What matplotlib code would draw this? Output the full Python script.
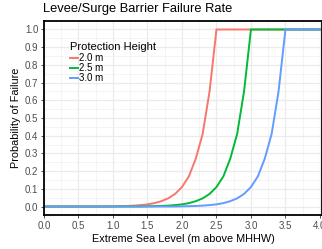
import matplotlib
matplotlib.use("Agg")
import matplotlib.pyplot as plt
from matplotlib.ticker import MultipleLocator

plt.rcParams['font.family'] = ['Liberation Sans', 'DejaVu Sans']

# Data
sea_level = [0.0, 0.1, 0.2, 0.3, 0.4, 0.5, 0.6, 0.7, 0.8, 0.9,
             1.0, 1.1, 1.2, 1.3, 1.4, 1.5, 1.6, 1.7, 1.8, 1.9,
             2.0, 2.1, 2.2, 2.3, 2.4, 2.5, 2.6, 2.7, 2.8, 2.9,
             3.0, 3.1, 3.2, 3.3, 3.4, 3.5, 3.6, 3.7, 3.8, 3.9, 4.0]
fail_2_0 = [0.000, 0.000, 0.000, 0.000, 0.000, 0.000, 0.000, 0.000, 0.000, 0.000,
            0.001, 0.002, 0.003, 0.005, 0.008, 0.012, 0.019, 0.030, 0.046, 0.071,
            0.110, 0.170, 0.270, 0.410, 0.650, 1.000, 1.000, 1.000, 1.000, 1.000,
            1.000, 1.000, 1.000, 1.000, 1.000, 1.000, 1.000, 1.000, 1.000, 1.000, 1.000]
fail_2_5 = [0.000, 0.000, 0.000, 0.000, 0.000, 0.000, 0.000, 0.000, 0.000, 0.000,
            0.000, 0.000, 0.000, 0.000, 0.000, 0.001, 0.002, 0.003, 0.005, 0.008,
            0.012, 0.019, 0.030, 0.046, 0.071, 0.110, 0.170, 0.270, 0.410, 0.650,
            1.000, 1.000, 1.000, 1.000, 1.000, 1.000, 1.000, 1.000, 1.000, 1.000, 1.000]
fail_3_0 = [0.000, 0.000, 0.000, 0.000, 0.000, 0.000, 0.000, 0.000, 0.000, 0.000,
            0.000, 0.000, 0.000, 0.000, 0.000, 0.000, 0.000, 0.000, 0.000, 0.000,
            0.001, 0.002, 0.003, 0.005, 0.008, 0.012, 0.019, 0.030, 0.046, 0.071,
            0.110, 0.170, 0.270, 0.410, 0.650, 1.000, 1.000, 1.000, 1.000, 1.000, 1.000]
series_labels = ["2.0 m", "2.5 m", "3.0 m"]
series_colors = ["#F8766D", "#00BA38", "#619CFF"]

W, H = 322, 249
fig = plt.figure(figsize=(W / 100, H / 100), dpi=100)
ax = fig.add_axes([44 / W, 1 - 215 / H, (322 - 44) / W, (215 - 21) / H])

for ys, lab, col in zip([fail_2_0, fail_2_5, fail_3_0], series_labels, series_colors):
    ax.plot(sea_level, ys, color=col, lw=1.4, label=lab, solid_joinstyle='miter')

ax.set_xlim(0, 4.03)
ax.set_ylim(-0.048, 1.048)
ax.xaxis.set_major_locator(MultipleLocator(0.5))
ax.xaxis.set_minor_locator(MultipleLocator(0.25))
ax.yaxis.set_major_locator(MultipleLocator(0.1))
ax.yaxis.set_minor_locator(MultipleLocator(0.05))
ax.grid(which='major', color='#EBEBEB', lw=0.9)
ax.grid(which='minor', color='#F2F2F2', lw=0.6)
ax.set_axisbelow(True)
ax.tick_params(which='major', length=2.5, width=0.6, color='#333333',
               labelsize=7, labelcolor='#4D4D4D', pad=1.5)
ax.tick_params(which='minor', length=0)
ax.xaxis.set_major_formatter(matplotlib.ticker.FormatStrFormatter('%.1f'))
ax.yaxis.set_major_formatter(matplotlib.ticker.FormatStrFormatter('%.1f'))
for s in ax.spines.values():
    s.set_color('black')
    s.set_linewidth(1.3)

ax.set_xlabel("Extreme Sea Level (m above MHHW)", fontsize=7.8, labelpad=2.5)
ax.set_ylabel("Probability of Failure", fontsize=7.8, labelpad=2.5)
fig.text(43 / W, 1 - 9 / H, "Levee/Surge Barrier Failure Rate", fontsize=9.3,
         ha='left', va='center')

leg = ax.legend(loc='upper left', bbox_to_anchor=(70 / W, 1 - 42 / H),
                bbox_transform=fig.transFigure, frameon=False,
                title="Protection Height", title_fontsize=8, fontsize=7,
                handlelength=0.8, handletextpad=0.15, labelspacing=0.0,
                borderpad=0, borderaxespad=0)
leg._legend_box.align = "left"
leg._legend_box.sep = 1

fig.savefig("out.png", dpi=100)
